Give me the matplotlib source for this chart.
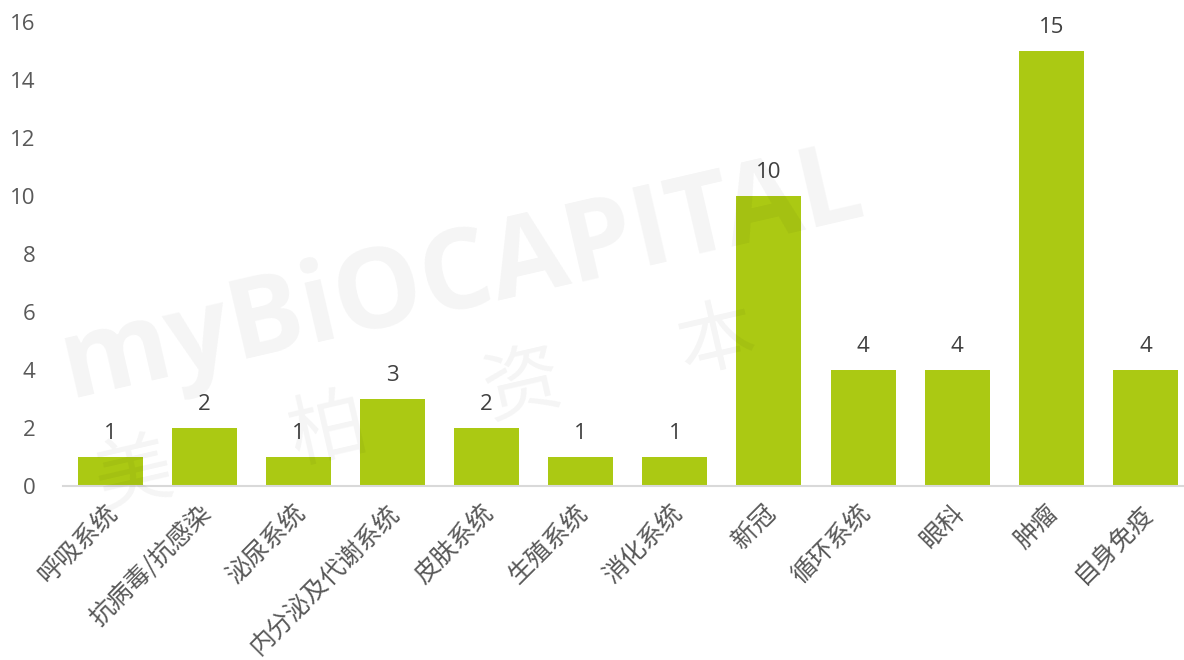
import matplotlib
matplotlib.use('Agg')
import matplotlib.pyplot as plt
import matplotlib.transforms as mtransforms

plt.rcParams['font.family'] = ['Open Sans', 'Noto Sans CJK SC', 'DejaVu Sans']

categories = ['呼吸系统', '抗病毒/抗感染', '泌尿系统', '内分泌及代谢系统', '皮肤系统', '生殖系统',
              '消化系统', '新冠', '循环系统', '眼科', '肿瘤', '自身免疫']
counts = [1, 2, 1, 3, 2, 1, 1, 10, 4, 4, 15, 4]
y_ticks = [0, 2, 4, 6, 8, 10, 12, 14, 16]

bar_color = '#abc913'
text_color = '#595959'

fig = plt.figure(figsize=(11.84, 6.6), dpi=100)
ax = fig.add_axes([0.0532, 0.2636, 0.954, 0.7031])

x = list(range(len(categories)))
bars = ax.bar(x, counts, width=0.69, color=bar_color, zorder=2)

for xi, v in zip(x, counts):
    ax.text(xi, v + 0.45, str(v), ha='center', va='bottom', fontsize=16, color='#404040')

ax.set_xlim(-0.5, len(categories) - 0.5)
ax.set_ylim(0, 16)
ax.set_yticks(y_ticks)
ax.set_yticklabels([str(t) for t in y_ticks], fontsize=16, color=text_color)
ax.set_xticks(x)
ax.set_xticklabels(categories, rotation=45, ha='right', rotation_mode='anchor',
                   fontsize=18, color=text_color,
                   family=['Noto Sans CJK SC', 'DejaVu Sans'])
ax.tick_params(axis='both', length=0)
ax.tick_params(axis='y', pad=20)
ax.tick_params(axis='x', pad=10)

# nudge the rotated category labels a little to the left
shift = mtransforms.ScaledTranslation(-6 / 100, 0, fig.dpi_scale_trans)
for lbl in ax.get_xticklabels():
    lbl.set_transform(lbl.get_transform() + shift)

for side in ['top', 'right', 'left']:
    ax.spines[side].set_visible(False)
ax.spines['bottom'].set_color('#d9d9d9')
ax.spines['bottom'].set_linewidth(1.5)

# faint company watermark across the plot
fig.text(0.39, 0.58, 'myBiOCAPITAL', fontsize=80, fontweight='bold', color='black',
         alpha=0.045, rotation=13, ha='center', va='center', zorder=5)
fig.text(0.36, 0.38, '美       柏       资       本', fontsize=56, color='black',
         family=['Noto Sans CJK SC'], alpha=0.045, rotation=13,
         ha='center', va='center', zorder=5)

fig.savefig('out.png', dpi=100)
